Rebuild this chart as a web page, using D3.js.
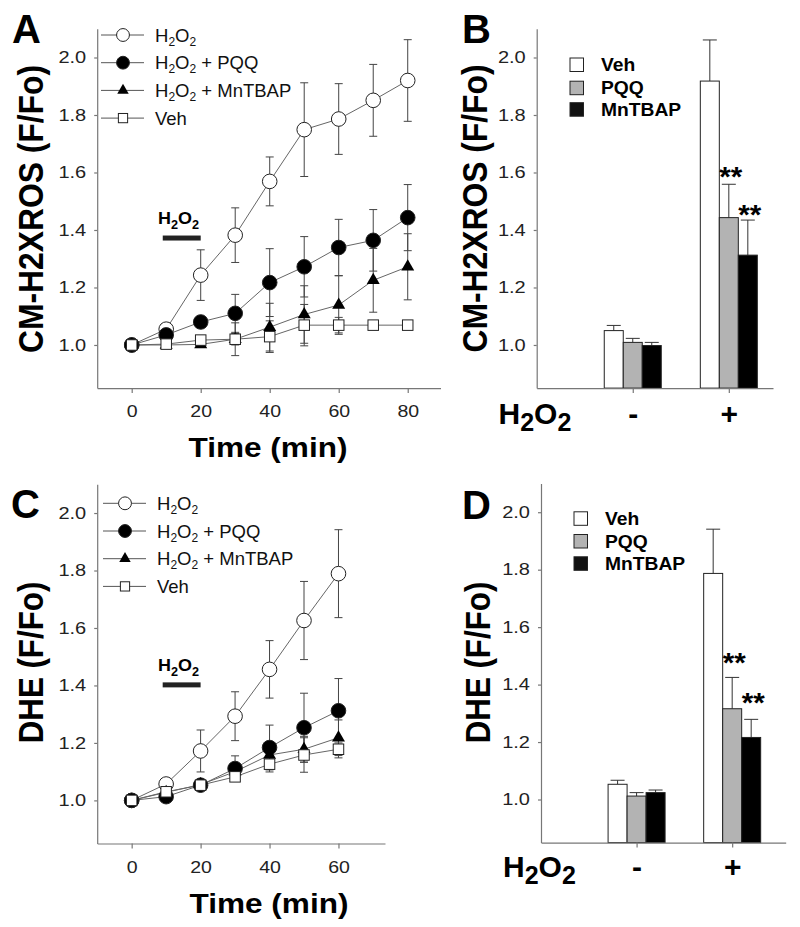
<!DOCTYPE html>
<html><head><meta charset="utf-8">
<script src="https://cdn.jsdelivr.net/npm/d3@7/dist/d3.min.js"></script>
<style>
body{margin:0;background:#fff}
svg{display:block}
text{font-family:"Liberation Sans",Arial,sans-serif}
</style>
</head><body>
<svg id="chart" width="800" height="927"></svg>
<script>
// ---------- data ----------
const seriesLabels = ["H2O2", "H2O2 + PQQ", "H2O2 + MnTBAP", "Veh"];
const barLabels = ["Veh", "PQQ", "MnTBAP"];
const groupLabels = ["-", "+"];
const yTickValues = [1.0, 1.2, 1.4, 1.6, 1.8, 2.0];

// Panel A: CM-H2XROS time course
const timesA = [0, 10, 20, 30, 40, 50, 60, 70, 80];
const timeTicksA = [0, 20, 40, 60, 80];
const aH2O2     = [1.0, 1.055, 1.243, 1.382, 1.569, 1.749, 1.786, 1.851, 1.920];
const aH2O2Err  = [0, 0.01, 0.088, 0.095, 0.085, 0.163, 0.123, 0.125, 0.142];
const aPQQ      = [1.0, 1.035, 1.080, 1.110, 1.217, 1.272, 1.339, 1.364, 1.443];
const aPQQErr   = [0, 0.01, 0.02, 0.066, 0.118, 0.105, 0.098, 0.107, 0.115];
const aMn       = [1.0, 1.0, 1.002, 1.02, 1.062, 1.106, 1.139, 1.225, 1.272];
const aMnErr    = [0, 0.005, 0.005, 0.02, 0.083, 0.1, 0.102, 0.111, 0.115];
const aVeh      = [1.0, 1.003, 1.017, 1.02, 1.029, 1.069, 1.069, 1.069, 1.069];
const aVehErr   = [0, 0.005, 0.005, 0.057, 0.055, 0.072, 0.027, 0.005, 0.005];

// Panel B: CM-H2XROS bars (groups: H2O2 -, +)
const bMinus    = [1.05, 1.009, 0.998];
const bMinusErr = [0.018, 0.014, 0.011];
const bPlus     = [1.918, 1.443, 1.3125];
const bPlusErr  = [0.143, 0.116, 0.122];

// Panel C: DHE time course
const timesC = [0, 10, 20, 30, 40, 50, 60];
const timeTicksC = [0, 20, 40, 60];
const cH2O2     = [1.0, 1.057, 1.172, 1.293, 1.456, 1.626, 1.789];
const cH2O2Err  = [0, 0.01, 0.073, 0.085, 0.1, 0.136, 0.153];
const cPQQ      = [1.0, 1.013, 1.053, 1.111, 1.184, 1.253, 1.312];
const cPQQErr   = [0, 0.01, 0.01, 0.044, 0.078, 0.12, 0.112];
const cMn       = [1.0, 1.028, 1.055, 1.10, 1.158, 1.178, 1.218];
const cMnErr    = [0, 0.01, 0.01, 0.02, 0.04, 0.045, 0.062];
const cVeh      = [1.0, 1.03, 1.053, 1.082, 1.126, 1.158, 1.178];
const cVehErr   = [0, 0.01, 0.01, 0.01, 0.027, 0.06, 0.03];

// Panel D: DHE bars
const dMinus    = [1.053, 1.012, 1.024];
const dMinusErr = [0.014, 0.012, 0.009];
const dPlus     = [1.787, 1.316, 1.216];
const dPlusErr  = [0.154, 0.109, 0.063];

// significance marks on "+" group (index of bar)
const starBars = [1, 2];
const h2o2Window = [9, 20];

// ---------- helpers ----------
const svg = d3.select("#chart");
const AXIS = "#777";

function chem(sel, str, subSize, dy) {
  let shift = 0;
  function add(t, sub) {
    const ts = sel.append("tspan").text(t);
    const target = sub ? dy : 0;
    if (target !== shift) ts.attr("dy", target - shift);
    shift = target;
    if (sub) ts.attr("font-size", subSize);
  }
  str.split(/(H2O2)/).forEach(p => {
    if (!p) return;
    if (p === "H2O2") { add("H", 0); add("2", 1); add("O", 0); add("2", 1); }
    else add(p, 0);
  });
  return sel;
}
function stretch(sel, f) {
  sel.each(function () {
    const w = this.getComputedTextLength();
    d3.select(this).attr("textLength", w * f).attr("lengthAdjust", "spacingAndGlyphs");
  });
}
function styleAxis(g) {
  g.attr("font-family", '"Liberation Sans", Arial, sans-serif');
  g.select(".domain").attr("stroke", AXIS).attr("stroke-width", 1.2);
  g.selectAll(".tick line").attr("stroke", AXIS).attr("stroke-width", 1.2);
}
function leftAxis(y, x0) {
  const g = svg.append("g").attr("transform", `translate(${x0},0)`)
    .call(d3.axisLeft(y).tickValues(yTickValues).tickFormat(d3.format(".1f"))
      .tickSize(3).tickPadding(8).tickSizeOuter(0));
  styleAxis(g);
  g.attr("font-size", 16);
  g.selectAll(".tick text").attr("fill", "#222");
  stretch(g.selectAll(".tick text"), 1.25);
}
function panelLetter(letter, x, y) {
  svg.append("text").attr("x", x).attr("y", y).attr("font-size", 40)
    .attr("font-weight", "bold").text(letter);
}
function yLabel(text, x, y, len) {
  svg.append("text").attr("transform", `translate(${x},${y}) rotate(-90) scale(1,1.1)`)
    .attr("text-anchor", "middle").attr("font-size", 32).attr("font-weight", "bold")
    .attr("textLength", len).attr("lengthAdjust", "spacingAndGlyphs").text(text);
}

const markers = ["openCircle", "circle", "triangle", "square"];
function drawMarker(g, type, cx, cy, scale) {
  const s = scale || 1;
  if (type === "openCircle" || type === "circle") {
    g.append("circle").attr("cx", cx).attr("cy", cy).attr("r", 7.3 * s)
      .attr("fill", type === "circle" ? "#000" : "#fff").attr("stroke", "#222").attr("stroke-width", 1);
  } else if (type === "square") {
    const a = 10.5 * s;
    g.append("rect").attr("x", cx - a / 2).attr("y", cy - a / 2).attr("width", a).attr("height", a)
      .attr("fill", "#fff").attr("stroke", "#222").attr("stroke-width", 1);
  } else {
    const side = 13 * s;
    g.append("path").attr("transform", `translate(${cx},${cy})`)
      .attr("d", d3.symbol(d3.symbolTriangle, side * side * Math.sqrt(3) / 4)())
      .attr("fill", "#000");
  }
}

// ---------- line panel ----------
function linePanel(cfg) {
  const x = d3.scaleLinear().domain(cfg.xDomain).range(cfg.xRange);
  const y = d3.scaleLinear().domain([0.85, 2.1]).range(cfg.yRange);

  // axes
  const gx = svg.append("g").attr("transform", `translate(0,${cfg.yRange[0]})`)
    .call(d3.axisBottom(x).tickValues(cfg.ticks).tickSize(5).tickPadding(13).tickSizeOuter(0));
  styleAxis(gx);
  gx.attr("font-size", 16);
  gx.selectAll(".tick text").attr("fill", "#222");
  stretch(gx.selectAll(".tick text"), 1.22);
  leftAxis(y, cfg.xRange[0]);

  const line = d3.line().x((d, i) => x(cfg.times[i])).y(d => y(d));
  const g = svg.append("g");
  cfg.series.forEach((s, si) => {
    g.append("path").datum(s.vals).attr("d", line).attr("fill", "none")
      .attr("stroke", "#666").attr("stroke-width", 1);
  });
  cfg.series.forEach((s, si) => {
    s.vals.forEach((v, i) => {
      const e = s.errs[i];
      if (e <= 0) return;
      const cx = x(cfg.times[i]);
      g.append("line").attr("x1", cx).attr("x2", cx).attr("y1", y(v - e)).attr("y2", y(v + e))
        .attr("stroke", "#444").attr("stroke-width", 1);
      [v - e, v + e].forEach(ev => g.append("line").attr("x1", cx - 4).attr("x2", cx + 4)
        .attr("y1", y(ev)).attr("y2", y(ev)).attr("stroke", "#444").attr("stroke-width", 1));
    });
  });
  cfg.series.forEach((s, si) => {
    s.vals.forEach((v, i) => drawMarker(g, markers[si], x(cfg.times[i]), y(v)));
  });

  // legend
  const lg = svg.append("g");
  seriesLabels.forEach((lab, i) => {
    const cy = cfg.legY + i * 27.7;
    lg.append("line").attr("x1", cfg.legX).attr("x2", cfg.legX + 43).attr("y1", cy).attr("y2", cy)
      .attr("stroke", "#555").attr("stroke-width", 1);
    drawMarker(lg, markers[i], cfg.legX + 22, cy, 0.88);
    const t = lg.append("text").attr("x", cfg.legX + 54).attr("y", cy + 6.5).attr("font-size", 18.5).attr("fill", "#111");
    chem(t, lab, 12, 4);
  });

  // H2O2 application bar
  svg.append("rect").attr("x", x(h2o2Window[0])).attr("width", x(h2o2Window[1]) - x(h2o2Window[0]))
    .attr("y", y(cfg.barY) - 2.5).attr("height", 5).attr("fill", "#222");
  const at = svg.append("text").attr("x", 158).attr("y", y(cfg.barY) - 14)
    .attr("font-size", 17).attr("font-weight", "bold").attr("textLength", 41).attr("lengthAdjust", "spacingAndGlyphs");
  chem(at, "H2O2", 12, 5);

  // x label
  svg.append("text").attr("x", cfg.timeX).attr("y", cfg.timeY).attr("text-anchor", "middle")
    .attr("font-size", 28.5).attr("font-weight", "bold").attr("textLength", 159)
    .attr("lengthAdjust", "spacingAndGlyphs").text("Time (min)");
}

// ---------- bar panel ----------
function barPanel(cfg) {
  const x = d3.scaleLinear().domain([0, cfg.xMax]).range(cfg.xRange);
  const y = d3.scaleLinear().domain([0.85, 2.1]).range(cfg.yRange);
  const groups = [cfg.minus, cfg.plus];
  const errs = [cfg.minusErr, cfg.plusErr];
  const fills = ["#fff", "#b3b3b3", "#000"];
  const bw = 19;

  const g = svg.append("g");
  groups.forEach((vals, gi) => {
    const gc = x(gi + 1);
    vals.forEach((v, i) => {
      const cx = gc + (i - 1) * bw;
      const top = y(v + errs[gi][i]);
      g.append("line").attr("x1", cx).attr("x2", cx).attr("y1", y(v)).attr("y2", top)
        .attr("stroke", "#333").attr("stroke-width", 1);
      g.append("line").attr("x1", cx - 7).attr("x2", cx + 7).attr("y1", top).attr("y2", top)
        .attr("stroke", "#333").attr("stroke-width", 1);
      g.append("rect").attr("x", cx - bw / 2).attr("width", bw).attr("y", y(v))
        .attr("height", y(0.85) - y(v)).attr("fill", fills[i]).attr("stroke", "#222").attr("stroke-width", 1);
    });
  });
  // stars
  starBars.forEach((i, k) => {
    const cx = x(2) + (i - 1) * bw + 2;
    svg.append("text").attr("x", cx).attr("y", y(cfg.plus[i] + cfg.plusErr[i]) + cfg.starDy[k])
      .attr("text-anchor", "middle").attr("font-size", 28).attr("font-weight", "bold")
      .attr("textLength", 23).attr("lengthAdjust", "spacingAndGlyphs").text("**");
  });

  const gx = svg.append("g").attr("transform", `translate(0,${cfg.yRange[0]})`)
    .call(d3.axisBottom(x).tickValues([1, 2]).tickFormat((d, i) => groupLabels[i])
      .tickSize(5).tickPadding(cfg.pad).tickSizeOuter(0));
  styleAxis(gx);
  gx.attr("font-size", 30);
  gx.selectAll(".tick text").attr("fill", "#000").attr("font-weight", "bold");
  leftAxis(y, cfg.xRange[0]);

  // legend
  barLabels.forEach((lab, i) => {
    const cy = cfg.legY[i];
    svg.append("rect").attr("x", cfg.legX).attr("y", cy - 6.5).attr("width", 13.5).attr("height", 13.5)
      .attr("fill", i === 0 ? "#fff" : i === 1 ? "#b3b3b3" : "#111").attr("stroke", "#222").attr("stroke-width", 1);
    const t = svg.append("text").attr("x", cfg.legX + 31).attr("y", cy + 6.5)
      .attr("font-size", 17.5).attr("font-weight", "bold").text(lab);
    stretch(t, 1.1);
  });

  // H2O2 axis title
  const t = svg.append("text").attr("x", cfg.hx).attr("y", cfg.hy).attr("font-size", 30).attr("font-weight", "bold");
  chem(t, "H2O2", 25, 7);
}

// ---------- draw ----------
linePanel({
  xDomain: [-10, 89.5], xRange: [97.2, 440.5], yRange: [388.1, 28.75],
  times: timesA, ticks: timeTicksA,
  series: [
    { vals: aH2O2, errs: aH2O2Err }, { vals: aPQQ, errs: aPQQErr },
    { vals: aMn, errs: aMnErr }, { vals: aVeh, errs: aVehErr }
  ],
  legX: 101, legY: 35, barY: 1.372, timeX: 268, timeY: 457
});
linePanel({
  xDomain: [-10, 73.5], xRange: [97.2, 385], yRange: [843.5, 484.3],
  times: timesC, ticks: timeTicksC,
  series: [
    { vals: cH2O2, errs: cH2O2Err }, { vals: cPQQ, errs: cPQQErr },
    { vals: cMn, errs: cMnErr }, { vals: cVeh, errs: cVehErr }
  ],
  legX: 103, legY: 503.3, barY: 1.402, timeX: 269, timeY: 913
});
barPanel({
  xMax: 2.46, xRange: [536.7, 773], yRange: [388.1, 28.75],
  minus: bMinus, minusErr: bMinusErr, plus: bPlus, plusErr: bPlusErr,
  starDy: [2, 4], pad: 9.5, legX: 570, legY: [64.5, 87.7, 109.2], hx: 498.5, hy: 424
});
barPanel({
  xMax: 2.56, xRange: [541, 785.7], yRange: [842.6, 483.5],
  minus: dMinus, minusErr: dMinusErr, plus: dPlus, plusErr: dPlusErr,
  starDy: [-5, -7], pad: 8, legX: 574, legY: [518.3, 541, 563.3], hx: 503, hy: 877
});

panelLetter("A", 12, 43);
panelLetter("B", 462, 43);
panelLetter("C", 11, 518);
panelLetter("D", 462, 519);
yLabel("CM-H2XROS (F/Fo)", 43.3, 209, 288);
yLabel("CM-H2XROS (F/Fo)", 487.3, 208.5, 288);
yLabel("DHE (F/Fo)", 42.7, 662.5, 161.6);
yLabel("DHE (F/Fo)", 490, 662.5, 161.6);
</script>
</body></html>
